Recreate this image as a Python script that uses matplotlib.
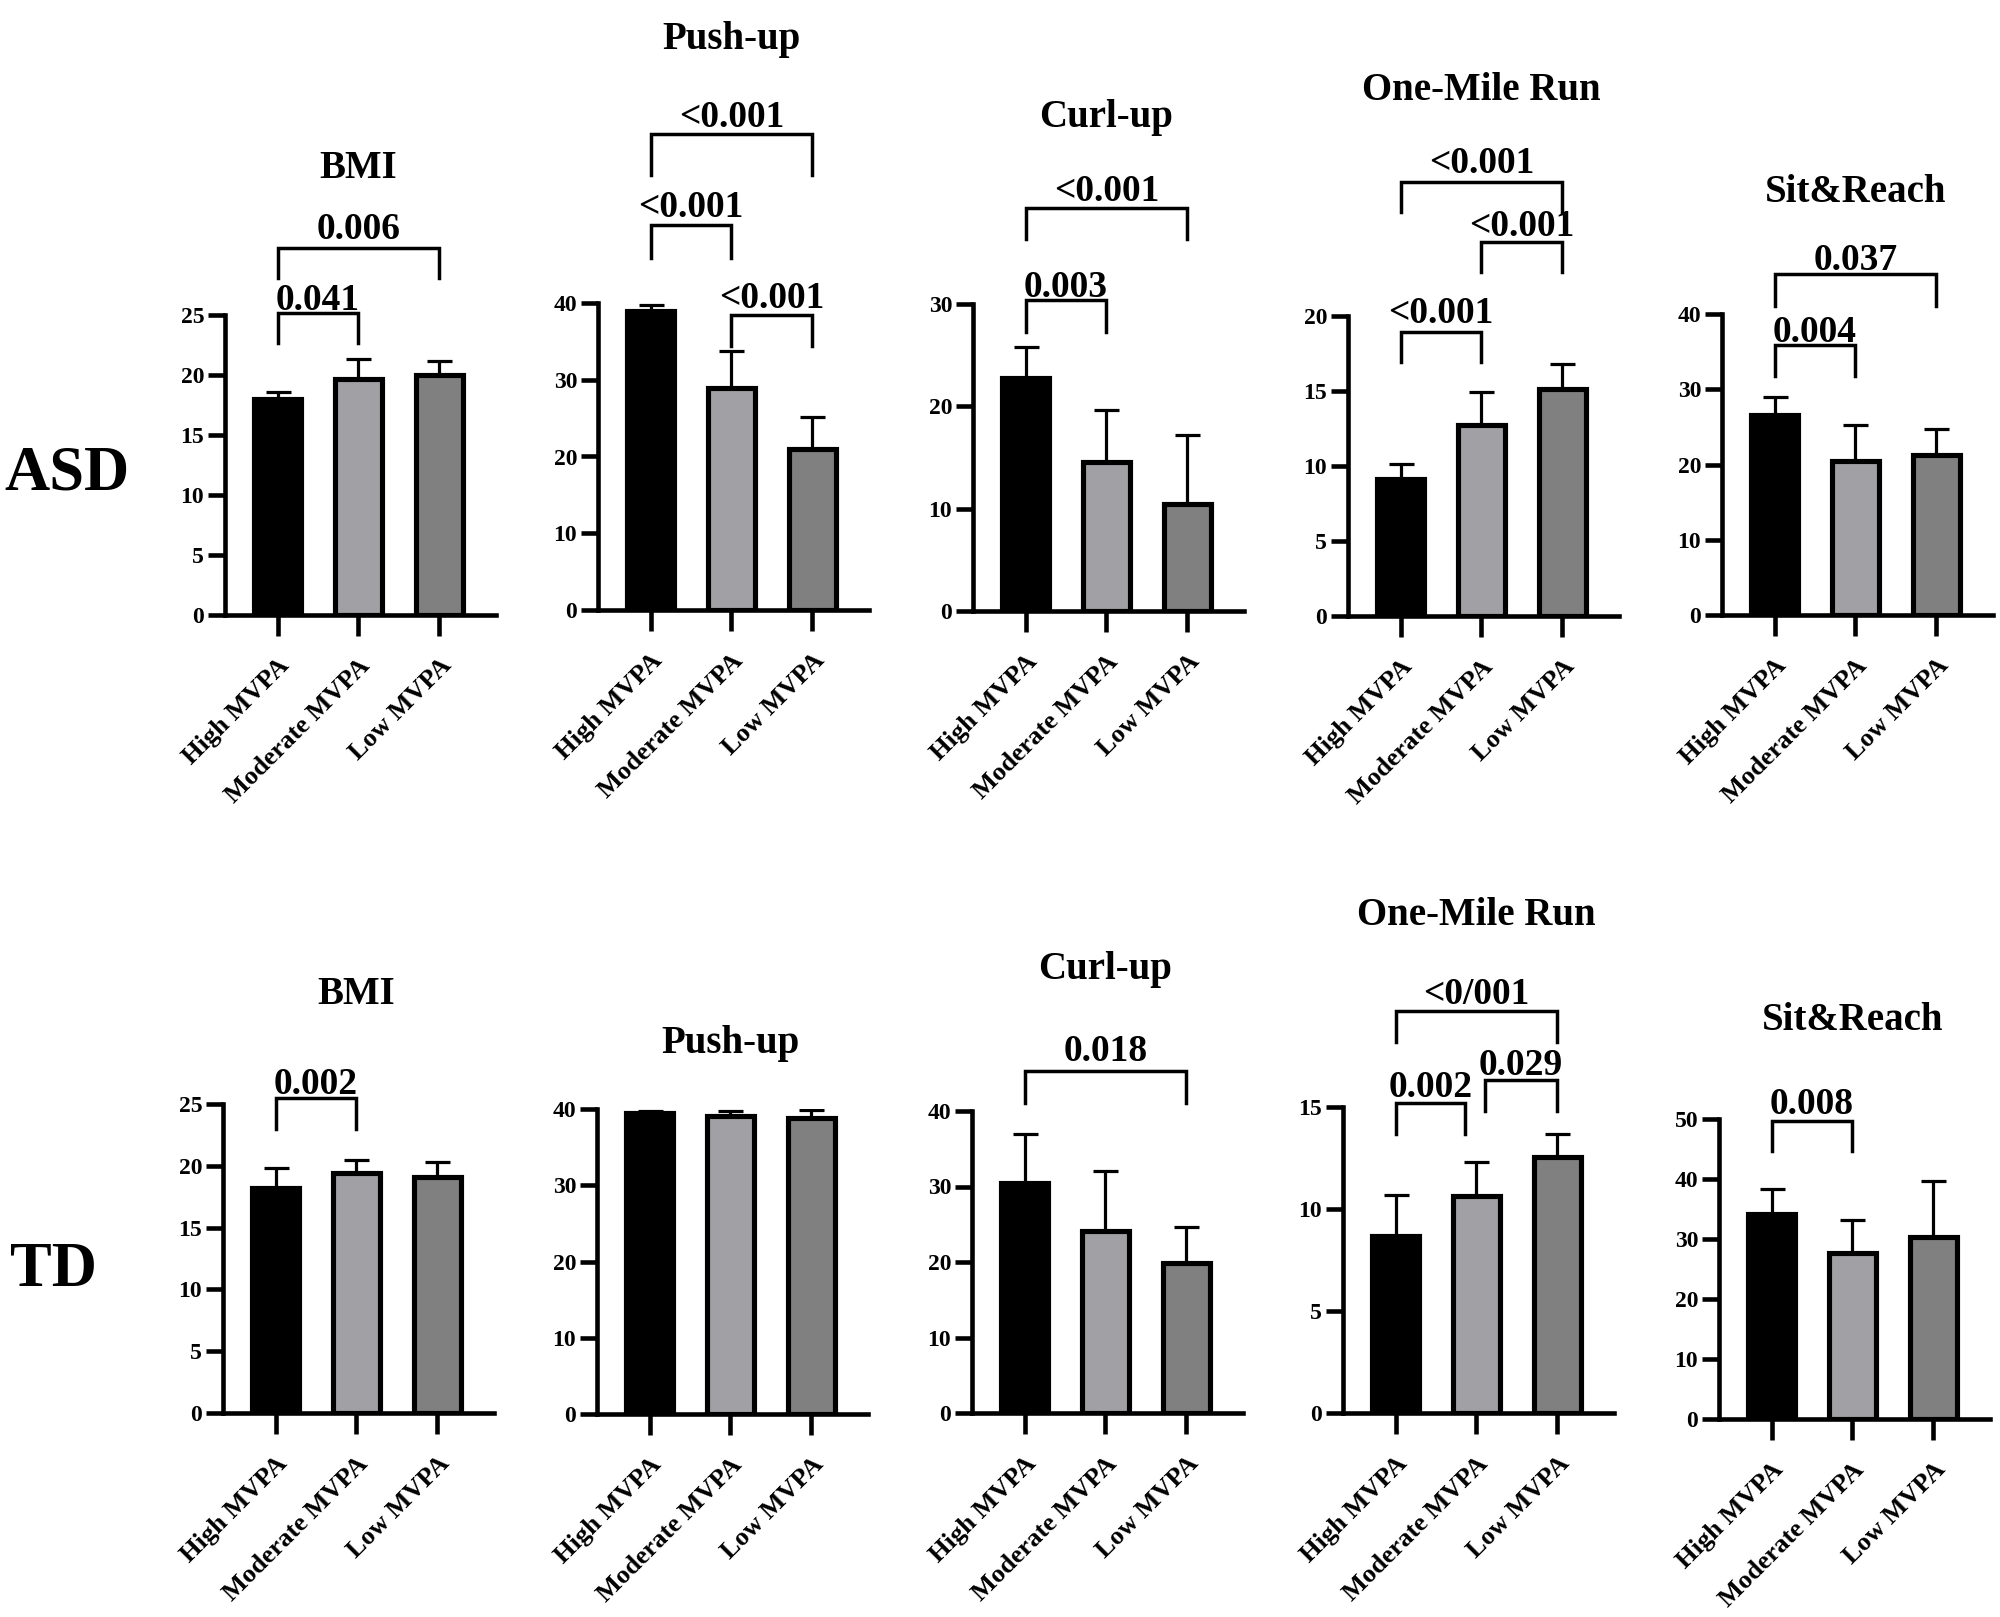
import matplotlib
matplotlib.use("Agg")
import matplotlib.pyplot as plt
import matplotlib.transforms as mtransforms
import numpy as np

plt.rcParams['font.family'] = ['Liberation Serif', 'DejaVu Serif']
plt.rcParams['font.weight'] = 'bold'

# groups and tests
groups = ["High MVPA", "Moderate MVPA", "Low MVPA"]
tests = ["BMI", "Push-up", "Curl-up", "One-Mile Run", "Sit&Reach"]
rows = ["ASD", "TD"]

# means and SD, one row per test
asd_mean = [[18.0, 19.7, 20.0],
            [39.0, 28.9, 21.0],
            [22.8, 14.6, 10.5],
            [9.1, 12.7, 15.1],
            [26.6, 20.4, 21.3]]
asd_sd = [[0.6, 1.6, 1.2],
          [0.8, 4.8, 4.1],
          [3.0, 5.0, 6.7],
          [1.0, 2.2, 1.7],
          [2.4, 4.8, 3.4]]
td_mean = [[18.2, 19.4, 19.1],
           [39.5, 39.1, 38.8],
           [30.5, 24.1, 19.9],
           [8.7, 10.65, 12.55],
           [34.1, 27.7, 30.4]]
td_sd = [[1.6, 1.1, 1.2],
         [0.3, 0.6, 1.1],
         [6.5, 7.9, 4.8],
         [2.0, 1.65, 1.15],
         [4.2, 5.4, 9.2]]

asd_ymax = [25, 40, 30, 20, 40]
asd_ystep = [5, 10, 10, 5, 10]
td_ymax = [25, 40, 40, 15, 50]
td_ystep = [5, 10, 10, 5, 10]

# comparisons: (from bar, to bar, p-value text)
asd_pvals = [[(0, 1, "0.041"), (0, 2, "0.006")],
             [(0, 1, "<0.001"), (0, 2, "<0.001"), (1, 2, "<0.001")],
             [(0, 1, "0.003"), (0, 2, "<0.001")],
             [(0, 1, "<0.001"), (1, 2, "<0.001"), (0, 2, "<0.001")],
             [(0, 1, "0.004"), (0, 2, "0.037")]]
td_pvals = [[(0, 1, "0.002")],
            [],
            [(0, 2, "0.018")],
            [(0, 0.86, "0.002"), (1.1, 2, "0.029"), (0, 2, "<0/001")],
            [(0, 1, "0.008")]]

# bracket heights (line, leg end) in data units, text gap in points
asd_brk = [[(25.2, 22.7, 2), (30.6, 28.1, 6)],
           [(50.1, 45.8, 6), (62.0, 56.7, 5), (38.4, 34.4, 5)],
           [(30.4, 27.3, 2), (39.4, 36.4, 5)],
           [(18.9, 16.9, 7), (24.9, 22.9, 5), (28.9, 26.9, 7)],
           [(35.9, 31.7, 2), (45.3, 41.1, 3)]]
td_brk = [[(25.5, 23.0, 3)],
          [],
          [(45.3, 41.1, 7)],
          [(15.2, 13.7, 4), (16.3, 14.8, 4), (19.7, 18.2, 5)],
          [(49.6, 44.7, 5)]]

colors = ["#000000", "#a1a1a5", "#808080"]

W, H = 2000, 1617
fig = plt.figure(figsize=(W / 100, H / 100), dpi=100)

# layout in pixels: left of y-axis, y of top tick, y of zero
asd_left = [225, 598, 973, 1348, 1722]
asd_top = [315, 303, 304, 316, 314]
asd_bot = [615, 610, 611, 616, 615]
asd_title_y = [169, 40, 117, 91, 193]
td_left = [223, 597, 972, 1343, 1719]
td_top = [1104, 1109, 1111, 1107, 1119]
td_bot = [1413, 1414, 1413, 1413, 1419]
td_title_y = [994, 1043, 969, 915, 1021]
axw = 271

def panel(left, top, bot, title, title_y, mean, sd, ymax, ystep, pvals, brk):
    ax = fig.add_axes([left / W, 1 - bot / H, axw / W, (bot - top) / H])
    x = np.arange(3)
    ax.errorbar(x, mean, yerr=[np.zeros(3), sd], fmt='none', ecolor='black',
                elinewidth=2.3, capsize=9, capthick=2.3, zorder=1)
    ax.bar(x, mean, width=0.58, color=colors, edgecolor='black', linewidth=3.7, zorder=2)
    ax.set_xlim(-0.65, 2.70)
    ax.set_ylim(0, ymax)
    ticks = np.arange(0, ymax + 0.1, ystep)
    ax.set_yticks(ticks)
    ax.set_yticklabels([str(int(v)) for v in ticks], fontsize=17)
    ax.set_xticks(x)
    ax.set_xticklabels(groups, rotation=45, ha='right', va='top',
                       rotation_mode='anchor', fontsize=19)
    for s in ['top', 'right']:
        ax.spines[s].set_visible(False)
    for s in ['left', 'bottom']:
        ax.spines[s].set_linewidth(3.3)
    ax.tick_params(axis='y', length=12, width=3.3, pad=3)
    ax.tick_params(axis='x', length=15, width=3.3, pad=13)
    for (i, j, txt), (yl, yb, gap) in zip(pvals, brk):
        ax.plot([i, i, j, j], [yb, yl, yl, yb], color='black', lw=2.5,
                clip_on=False, solid_joinstyle='miter')
        ax.annotate(txt, xy=((i + j) / 2, yl), xytext=(0, gap), textcoords='offset points',
                    ha='center', va='baseline', fontsize=27, annotation_clip=False)
    tr = mtransforms.blended_transform_factory(ax.transData, fig.transFigure)
    ax.text(1, 1 - title_y / H, title, transform=tr, ha='center', va='center', fontsize=28)
    return ax

for k in range(5):
    panel(asd_left[k], asd_top[k], asd_bot[k], tests[k], asd_title_y[k],
          asd_mean[k], asd_sd[k], asd_ymax[k], asd_ystep[k], asd_pvals[k], asd_brk[k])
    panel(td_left[k], td_top[k], td_bot[k], tests[k], td_title_y[k],
          td_mean[k], td_sd[k], td_ymax[k], td_ystep[k], td_pvals[k], td_brk[k])

fig.text(67 / W, 1 - 474 / H, rows[0], ha='center', va='center', fontsize=45)
fig.text(53 / W, 1 - 1271 / H, rows[1], ha='center', va='center', fontsize=45)

fig.savefig("out.png", dpi=100, facecolor='white')
